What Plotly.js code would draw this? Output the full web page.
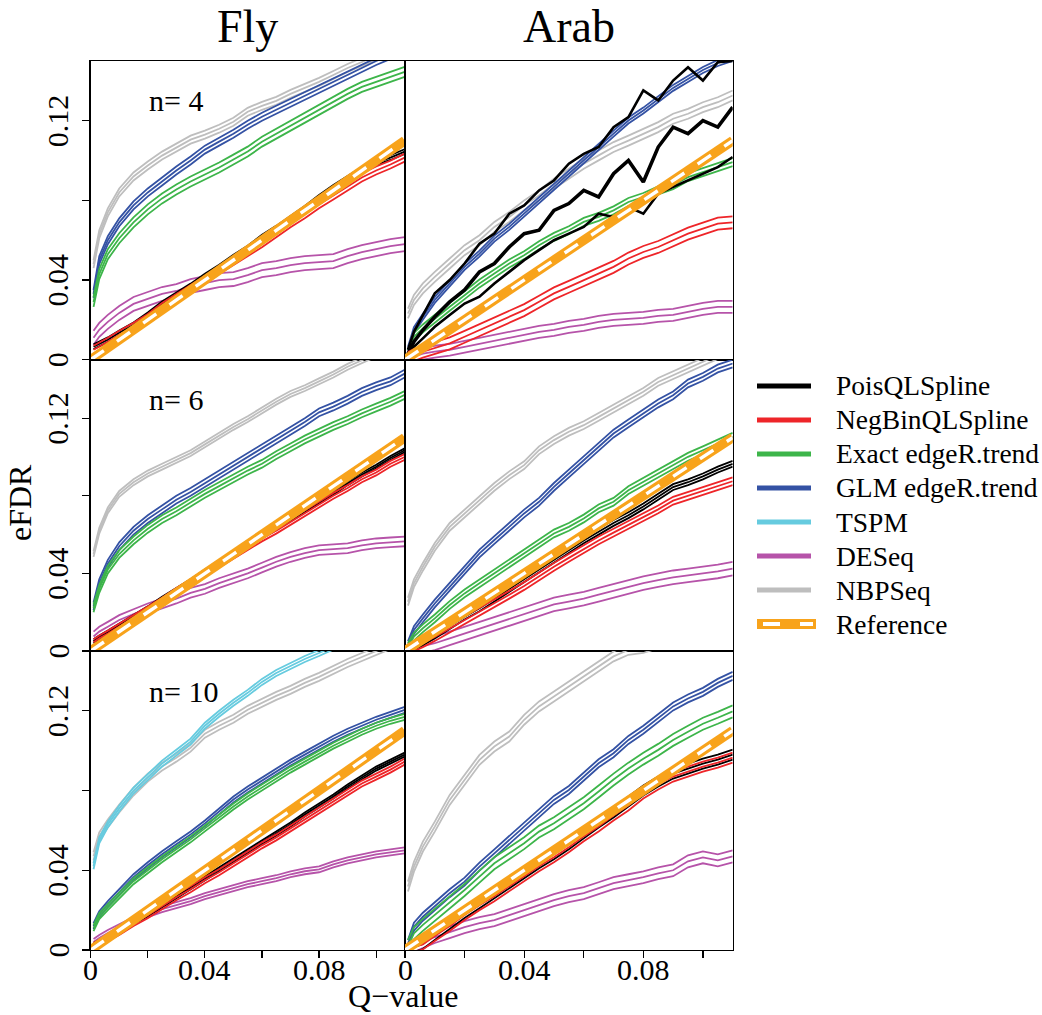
<!DOCTYPE html>
<html>
<head>
<meta charset="utf-8">
<script src="https://cdn.plot.ly/plotly-3.0.1.min.js"></script>
<style>
  html, body { margin: 0; padding: 0; background: #ffffff; }
  #chart { width: 1042px; height: 1015px; }
</style>
</head>
<body>
<div id="chart"></div>
<script>
// Q-value grid shared by all curves
const qGrid = [0.001, 0.003, 0.006, 0.01, 0.015, 0.02, 0.025, 0.03, 0.035, 0.04, 0.045, 0.05,
               0.055, 0.06, 0.065, 0.07, 0.075, 0.08, 0.085, 0.09, 0.095, 0.10, 0.105, 0.11];

// Reference line eFDR = Q
const refQ = [0, 0.11];
const refFDR = [0, 0.11];

// ---- Fly, n = 4 (mean eFDR) ----
const fly4_pois   = [.0065,.008,.010,.0135,.0175,.0225,.028,.0325,.037,.042,.0465,.0515,.056,.0615,.066,.071,.076,.0815,.0865,.091,.0955,.099,.1015,.1045];
const fly4_negbin = [.005,.0065,.009,.0125,.0165,.021,.0265,.031,.0355,.040,.045,.0495,.054,.0585,.0635,.0685,.073,.078,.0825,.087,.0915,.095,.098,.1015];
const fly4_exact  = [.029,.043,.053,.061,.069,.0755,.081,.0855,.0895,.093,.0965,.1005,.1045,.1095,.1135,.1175,.1215,.1255,.1295,.1335,.137,.1395,.142,.1445];
const fly4_glm    = [.033,.050,.060,.069,.0775,.084,.0895,.095,.100,.1055,.1095,.1135,.118,.122,.1255,.129,.1325,.136,.1395,.143,.1465,.150,.153,.156];
const fly4_deseq  = [.011,.015,.019,.0235,.028,.0305,.033,.0345,.037,.0385,.040,.0405,.0425,.045,.046,.0475,.0485,.049,.0495,.052,.054,.0555,.057,.058];
const fly4_nbp    = [.048,.063,.074,.084,.092,.0975,.1025,.1065,.1105,.113,.116,.1195,.1245,.1275,.130,.1335,.1365,.1395,.143,.1465,.1495,.153,.156,.159];
// half-width of the error band, per method (Pois, NegBin, Exact, GLM, TSPM, DESeq, NBPSeq)
const fly4_band   = [.0012, .002, .0025, .002, 0, .0035, .002];

// ---- Fly, n = 6 ----
const fly6_pois   = [.005,.007,.0095,.013,.0175,.022,.027,.0315,.036,.041,.0455,.050,.0545,.059,.0635,.068,.0725,.077,.0815,.0865,.091,.095,.0995,.1035];
const fly6_negbin = [.0045,.0065,.009,.0125,.017,.0215,.026,.031,.0355,.040,.0445,.049,.0535,.058,.062,.0665,.071,.0755,.080,.084,.0885,.092,.0965,.100];
const fly6_exact  = [.022,.032,.042,.050,.057,.063,.068,.072,.0765,.081,.085,.089,.093,.0965,.101,.105,.109,.1125,.116,.119,.1225,.1255,.1285,.132];
const fly6_glm    = [.023,.035,.045,.054,.062,.068,.073,.078,.082,.0865,.091,.0955,.100,.1045,.109,.1135,.118,.123,.126,.1295,.1335,.1365,.139,.143];
const fly6_deseq  = [.0075,.010,.0125,.016,.019,.022,.0245,.027,.030,.032,.035,.0375,.040,.043,.046,.0485,.0505,.052,.0525,.053,.0545,.0555,.056,.0565];
const fly6_nbp    = [.050,.062,.0725,.081,.087,.0915,.095,.0985,.102,.1065,.111,.1155,.1195,.124,.1285,.1325,.1355,.139,.1425,.1465,.150,.1535,.157,.160];
const fly6_band   = [.001, .0015, .002, .002, 0, .0025, .0015];

// ---- Fly, n = 10 ----
const fly10_pois   = [.0025,.004,.0065,.0095,.014,.018,.0225,.027,.0315,.036,.0405,.045,.0495,.054,.0585,.063,.068,.0725,.077,.082,.0865,.091,.0945,.098];
const fly10_negbin = [.002,.0035,.006,.009,.0135,.0175,.022,.0265,.0305,.035,.039,.0435,.048,.0525,.0565,.061,.0655,.070,.0745,.079,.0835,.087,.0905,.0945];
const fly10_exact  = [.011,.017,.0215,.0275,.0345,.040,.0455,.0505,.0555,.061,.0665,.072,.077,.0815,.086,.0905,.0945,.0985,.1025,.106,.1095,.1125,.115,.117];
const fly10_glm    = [.012,.018,.023,.029,.0365,.0425,.048,.053,.058,.0635,.0695,.0755,.0805,.085,.0895,.094,.098,.102,.106,.1095,.1125,.1155,.118,.1205];
const fly10_tspm   = [.042,.055,.063,.071,.080,.087,.0935,.099,.1045,.1125,.1185,.124,.129,.1345,.139,.1425,.146,.149,.1525,.1555,.158,.161,.164,.167];
const fly10_deseq  = [.004,.006,.0085,.0115,.015,.018,.0205,.0225,.0245,.027,.029,.031,.033,.0345,.036,.038,.0395,.0405,.043,.045,.0465,.048,.049,.050];
const fly10_nbp    = [.047,.057,.0635,.071,.0795,.0865,.092,.0965,.1015,.1085,.1125,.116,.1205,.124,.1275,.1305,.134,.137,.1405,.144,.147,.150,.153,.156];
const fly10_band   = [.001, .0015, .0015, .0015, .0015, .0015, .002];

// ---- Arab, n = 4 ----
const arab4_pois    = [.003,.009,.0149,.0216,.029,.035,.0441,.0483,.0566,.0633,.065,.075,.0784,.085,.0817,.0934,.1001,.0892,.1068,.1168,.1135,.1201,.1168,.1268];
const arab4_pois_hi = [.005,.014,.0224,.0333,.040,.0483,.0583,.0633,.0733,.0775,.085,.090,.0984,.1034,.1068,.1168,.1218,.1352,.1302,.1402,.1469,.1402,.1494,.150];
const arab4_pois_lo = [.0023,.0065,.0107,.0165,.0224,.0282,.0316,.0383,.0441,.050,.055,.060,.0633,.0667,.0733,.0717,.0767,.0733,.0834,.0867,.090,.0934,.0967,.1018];
const arab4_negbin  = [.0008,.0023,.004,.0057,.0082,.0115,.0149,.0182,.0216,.0249,.0291,.0333,.0366,.0399,.0433,.0466,.0508,.0541,.0566,.060,.0633,.0658,.0683,.069];
const arab4_exact   = [.003,.0115,.0157,.0207,.0266,.0324,.0383,.0433,.0483,.0525,.0575,.0617,.065,.0692,.0717,.075,.0792,.0817,.085,.0876,.0917,.0942,.0967,.0992];
const arab4_glm     = [.005,.0149,.0216,.030,.0383,.0466,.0533,.0608,.0667,.0733,.080,.0867,.0934,.1001,.1068,.1135,.1201,.1251,.131,.1365,.141,.1455,.149,.1515];
const arab4_deseq   = [.0005,.0015,.003,.004,.005,.0065,.008,.0095,.011,.0125,.014,.015,.0165,.0175,.019,.020,.0205,.021,.022,.0225,.024,.0255,.0265,.0265];
const arab4_nbp     = [.0232,.030,.0358,.0416,.0483,.055,.060,.0667,.0717,.0775,.0825,.0884,.0934,.0984,.1026,.1068,.110,.1135,.1168,.121,.1235,.1268,.1293,.1327];
const arab4_band    = [0, .003, .002, .0015, 0, .003, .0025];

// ---- Arab, n = 6 ----
const arab6_pois   = [.0005,.002,.0045,.008,.0128,.0177,.022,.027,.0318,.0366,.042,.047,.052,.057,.0615,.066,.070,.0745,.0795,.0845,.087,.090,.0935,.0965];
const arab6_negbin = [.0005,.0018,.004,.0072,.0115,.016,.020,.0245,.029,.0335,.0385,.0434,.048,.0525,.057,.061,.065,.069,.073,.0775,.080,.0825,.085,.0875];
const arab6_exact  = [.002,.0074,.0117,.0168,.0237,.0297,.0349,.040,.0451,.0503,.0555,.0606,.064,.0683,.0735,.0769,.0829,.0872,.0915,.0958,.1001,.1035,.107,.1104];
const arab6_glm    = [.003,.0108,.0168,.0245,.0331,.0417,.0503,.0572,.064,.0709,.0769,.0846,.0915,.0984,.1052,.1121,.1173,.1224,.1276,.1318,.1379,.1413,.1456,.1482];
const arab6_deseq  = [.0005,.0015,.0025,.004,.0065,.009,.0115,.014,.0165,.019,.0215,.024,.0255,.027,.029,.031,.033,.035,.0365,.038,.039,.040,.041,.0425];
const arab6_nbp    = [.0254,.0349,.0434,.0537,.064,.0709,.0778,.0846,.0906,.0958,.1035,.1087,.113,.1164,.1207,.125,.1293,.1336,.1387,.1421,.1456,.149,.1524,.156];
const arab6_band   = [.0015, .002, .002, .002, 0, .0035, .002];

// ---- Arab, n = 10 ----
const arab10_pois   = [.0005,.0015,.003,.0075,.013,.0185,.0235,.0285,.0335,.0385,.0435,.048,.053,.0585,.064,.069,.0745,.080,.0845,.0885,.091,.0935,.0955,.098];
const arab10_negbin = [.0005,.0013,.0028,.007,.012,.0175,.0225,.027,.032,.037,.042,.0465,.0515,.057,.062,.0675,.0725,.0785,.083,.087,.0895,.092,.094,.0965];
const arab10_exact  = [.002,.0084,.0126,.0176,.0234,.0301,.0368,.0435,.0485,.0536,.0594,.0636,.0686,.0736,.0795,.0855,.091,.096,.1004,.1054,.1095,.1135,.1165,.1197];
const arab10_glm    = [.003,.0117,.0167,.0218,.0285,.0343,.0418,.0485,.0552,.0619,.0686,.0753,.0803,.087,.0937,.0987,.1054,.1105,.1163,.1222,.1262,.1295,.134,.1375];
const arab10_deseq  = [.001,.002,.004,.0065,.009,.0115,.0135,.015,.0175,.020,.0225,.025,.027,.0285,.031,.0335,.035,.0365,.0385,.040,.0445,.0465,.045,.047];
const arab10_nbp    = [.0318,.0418,.0519,.0619,.0753,.0854,.0954,.1021,.1071,.1155,.1222,.1272,.1322,.1372,.1423,.1473,.1506,.1515,.154,.157,.160,.163,.166,.169];
const arab10_band   = [.0025, .0025, .003, .002, 0, .003, .0025];

// Methods, legend order
const methodNames  = ['PoisQLSpline', 'NegBinQLSpline', 'Exact edgeR.trend', 'GLM edgeR.trend', 'TSPM', 'DESeq', 'NBPSeq', 'Reference'];
const methodColors = ['#000000', '#EE2529', '#3DB54A', '#3452A4', '#66CBDF', '#B653A9', '#BEBEBE', '#F8A31B'];

// Column / row headings
const speciesLabels = ['Fly', 'Arab'];
const sizeLabels = ['n= 4', 'n= 6', 'n= 10'];

// Axis ticks
const qTicks = [0, 0.02, 0.04, 0.06, 0.08, 0.10];
const qTickText = ['0', '', '0.04', '', '0.08', ''];
const fdrTicks = [0, 0.04, 0.08, 0.12];
const fdrTickText = ['0', '0.04', '', '0.12'];

// Panels in reading order: row by row, Fly left, Arab right
const panelSeries = [
  [fly4_pois,   fly4_negbin,   fly4_exact,   fly4_glm,   null,       fly4_deseq,   fly4_nbp],
  [arab4_pois,  arab4_negbin,  arab4_exact,  arab4_glm,  null,       arab4_deseq,  arab4_nbp],
  [fly6_pois,   fly6_negbin,   fly6_exact,   fly6_glm,   null,       fly6_deseq,   fly6_nbp],
  [arab6_pois,  arab6_negbin,  arab6_exact,  arab6_glm,  null,       arab6_deseq,  arab6_nbp],
  [fly10_pois,  fly10_negbin,  fly10_exact,  fly10_glm,  fly10_tspm, fly10_deseq,  fly10_nbp],
  [arab10_pois, arab10_negbin, arab10_exact, arab10_glm, null,       arab10_deseq, arab10_nbp]
];
const panelBands = [fly4_band, arab4_band, fly6_band, arab6_band, fly10_band, arab10_band];

const W = 1042, H = 1015;
const px = v => v / W;
const py = v => 1 - v / H;

// subplot frames in pixels
const colX = [[90.7, 404.7], [405, 732.7]];
const rowY = [[61, 359.7], [360, 651], [651, 950]];

const FONT = 'Liberation Serif, Times New Roman, Times, serif';

const traces = [];
const drawOrder = [6, 5, 4, 3, 2, 0, 1];

panelSeries.forEach((series, p) => {
  const sfx = p === 0 ? '' : String(p + 1);
  const xa = 'x' + sfx, ya = 'y' + sfx;
  drawOrder.forEach(m => {
    const mean = series[m];
    if (!mean) return;
    let lo, hi, w = 1.8, wMean = 1.8;
    if (p === 1 && m === 0) {
      lo = arab4_pois_lo; hi = arab4_pois_hi; w = 2.6; wMean = 3.6;
    } else {
      const b = panelBands[p][m];
      lo = mean.map(v => v - b);
      hi = mean.map(v => v + b);
    }
    [[lo, w], [mean, wMean], [hi, w]].forEach(([ys, lw]) => {
      traces.push({
        type: 'scatter', mode: 'lines', x: qGrid, y: ys,
        xaxis: xa, yaxis: ya, showlegend: false, hoverinfo: 'skip',
        line: { color: methodColors[m], width: lw }
      });
    });
  });
  // reference line: thick orange with a white dashed centre
  traces.push({
    type: 'scatter', mode: 'lines', x: refQ, y: refFDR, xaxis: xa, yaxis: ya,
    showlegend: false, hoverinfo: 'skip', line: { color: methodColors[7], width: 9.5 }
  });
  traces.push({
    type: 'scatter', mode: 'lines', x: refQ, y: refFDR, xaxis: xa, yaxis: ya,
    showlegend: false, hoverinfo: 'skip', line: { color: '#ffffff', width: 3.4, dash: '16px,16px' }
  });
});

const layout = {
  width: W, height: H,
  margin: { l: 0, r: 0, t: 0, b: 0 },
  paper_bgcolor: '#ffffff', plot_bgcolor: '#ffffff',
  showlegend: false,
  font: { family: FONT, color: '#000000', size: 28 },
  annotations: [], shapes: []
};

const tickFont = { family: FONT, size: 30, color: '#000000' };

for (let p = 0; p < 6; p++) {
  const col = p % 2, row = Math.floor(p / 2);
  const sfx = p === 0 ? '' : String(p + 1);
  const bottom = row === 2, left = col === 0;
  layout['xaxis' + sfx] = {
    domain: [px(colX[col][0]), px(colX[col][1])],
    anchor: 'y' + sfx, range: [0, 0.11], fixedrange: true,
    showline: true, mirror: true, linecolor: '#000000', linewidth: 1.4,
    showgrid: false, zeroline: false,
    tickmode: 'array', tickvals: qTicks,
    ticks: bottom ? 'outside' : '', ticklen: 7, tickwidth: 1.2, tickcolor: '#000000',
    showticklabels: false
  };
  layout['yaxis' + sfx] = {
    domain: [py(rowY[row][1]), py(rowY[row][0])],
    anchor: 'x' + sfx, range: [0, 0.15], fixedrange: true,
    showline: true, mirror: true, linecolor: '#000000', linewidth: 1.4,
    showgrid: false, zeroline: false,
    tickmode: 'array', tickvals: fdrTicks,
    ticks: left ? 'outside' : '', ticklen: 7, tickwidth: 1.2, tickcolor: '#000000',
    showticklabels: false
  };
  // tick labels, placed on the axis scales
  if (bottom) {
    qTicks.forEach((v, k) => {
      if (!qTickText[k]) return;
      layout.annotations.push({
        xref: 'x' + sfx, yref: 'paper', x: v, y: py(969),
        xanchor: 'center', yanchor: 'middle', showarrow: false,
        text: qTickText[k], font: tickFont
      });
    });
  }
  if (left) {
    fdrTicks.forEach((v, k) => {
      if (!fdrTickText[k]) return;
      layout.annotations.push({
        xref: 'paper', yref: 'y' + sfx, x: px(57.5), y: v,
        xanchor: 'center', yanchor: 'middle', showarrow: false, textangle: -90,
        text: fdrTickText[k], font: tickFont
      });
    });
  }
}

// column headings
speciesLabels.forEach((t, c) => {
  layout.annotations.push({
    xref: 'paper', yref: 'paper', x: px((colX[c][0] + colX[c][1]) / 2), y: py(27),
    xanchor: 'center', yanchor: 'middle', showarrow: false, text: t,
    font: { family: FONT, size: 46, color: '#000000' }
  });
});

// sample-size labels
const sizeLabelY = [100.5, 399.8, 691.2];
sizeLabels.forEach((t, r) => {
  layout.annotations.push({
    xref: 'paper', yref: 'paper', x: px(147), y: py(sizeLabelY[r]),
    xanchor: 'left', yanchor: 'middle', showarrow: false, text: t,
    font: { family: FONT, size: 30, color: '#000000' }
  });
});

// axis titles
layout.annotations.push({
  xref: 'paper', yref: 'paper', x: px(20), y: py(503),
  xanchor: 'center', yanchor: 'middle', showarrow: false, text: 'eFDR', textangle: -90,
  font: { family: FONT, size: 32, color: '#000000' }
});
layout.annotations.push({
  xref: 'paper', yref: 'paper', x: px(402.5), y: py(996),
  xanchor: 'center', yanchor: 'middle', showarrow: false, text: 'Q\u2212value',
  font: { family: FONT, size: 32, color: '#000000' }
});

// legend
methodNames.forEach((name, i) => {
  const yc = py(386 + 34 * i);
  if (i === 7) {
    layout.shapes.push({ type: 'line', xref: 'paper', yref: 'paper', x0: px(757), x1: px(816), y0: yc, y1: yc,
      line: { color: methodColors[7], width: 10 } });
    layout.shapes.push({ type: 'line', xref: 'paper', yref: 'paper', x0: px(763), x1: px(813), y0: yc, y1: yc,
      line: { color: '#ffffff', width: 4, dash: '17px,20px' } });
  } else {
    layout.shapes.push({ type: 'line', xref: 'paper', yref: 'paper', x0: px(757), x1: px(811), y0: yc, y1: yc,
      line: { color: methodColors[i], width: 5 } });
  }
  layout.annotations.push({
    xref: 'paper', yref: 'paper', x: px(834), y: yc,
    xanchor: 'left', yanchor: 'middle', showarrow: false, text: name,
    font: { family: FONT, size: 27.5, color: '#000000' }
  });
});

Plotly.newPlot('chart', traces, layout, { staticPlot: true, displayModeBar: false });
</script>
</body>
</html>
